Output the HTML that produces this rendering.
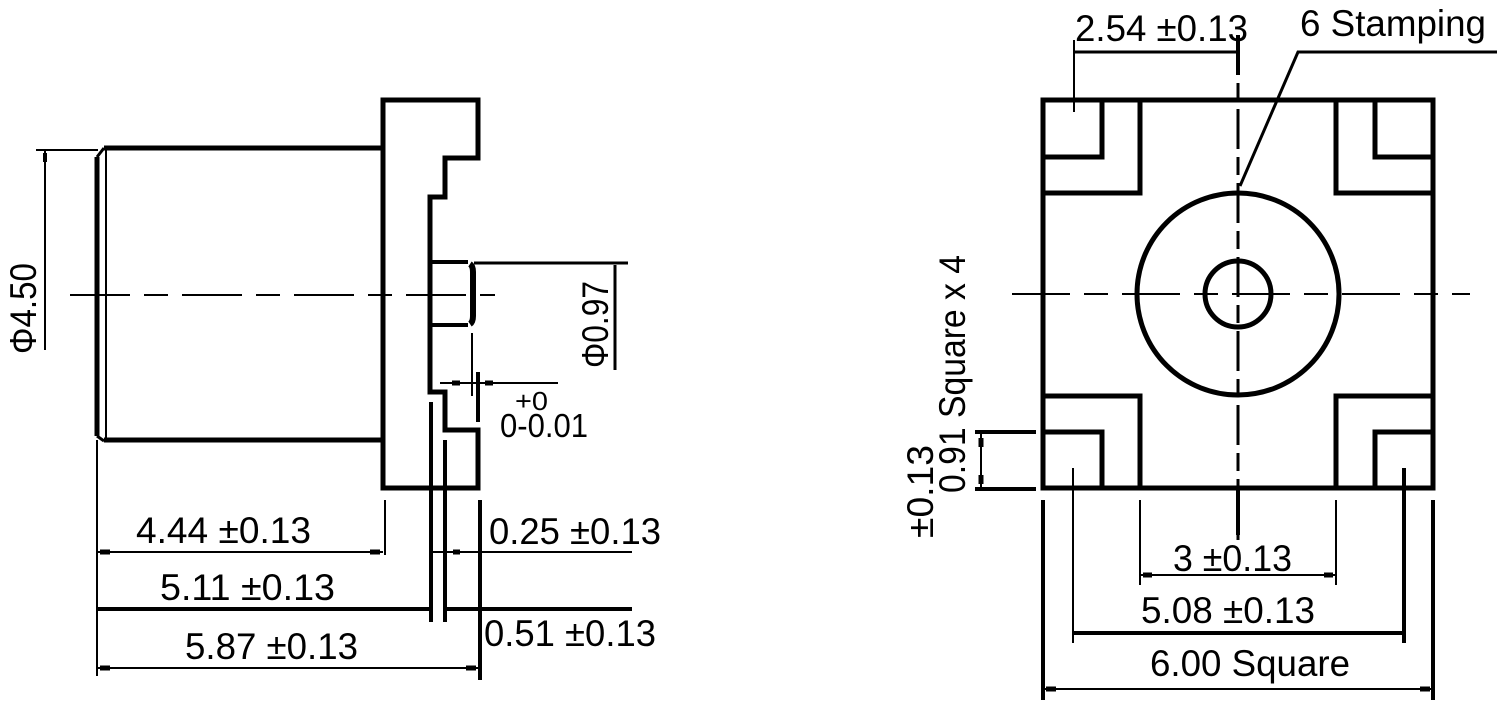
<!DOCTYPE html>
<html><head><meta charset="utf-8"><style>
html,body{margin:0;padding:0;background:#fff;}
svg{display:block;}
text{font-family:"Liberation Sans",sans-serif;fill:#000;}
</style></head><body>
<svg width="1506" height="710" viewBox="0 0 1506 710" xmlns="http://www.w3.org/2000/svg">
<g stroke="#000" fill="none" stroke-linecap="butt">
<!-- LEFT VIEW -->
<path d="M104 148 H383 M104 440 H383" stroke-width="5"/>
<path d="M97 157 V436" stroke-width="5"/>
<path d="M106 150 V438" stroke-width="2"/>
<path d="M97 157 L104 148 M97 436 L104 441" stroke-width="3"/>
<!-- flange -->
<path d="M383 100 H478 V158 H445 V197 H430 V392 H445 V430 H478 V488 H383 Z" stroke-width="5"/>
<!-- pin -->
<path d="M430 262 H468 M430 325 H468" stroke-width="4"/>
<path d="M470 264 Q473 266 473 272 V316 Q473 322 470 324" stroke-width="6"/>
<!-- centerline -->
<path d="M70 295 H495" stroke-width="2" stroke-dasharray="60,14,24,14"/>
<!-- phi 4.50 -->
<path d="M36 150 H98 M45 150 V350" stroke-width="2"/>
<path d="M45 153 V162" stroke-width="4"/>
<!-- phi 0.97 -->
<path d="M474 263 H628" stroke-width="3"/>
<path d="M615 265 V370" stroke-width="3"/>
<!-- small dim -->
<path d="M472 333 V396" stroke-width="2"/>
<path d="M478 372 V422" stroke-width="4"/>
<path d="M440 383 H558" stroke-width="2"/>
<path d="M452 383 H460 M485 383 H493" stroke-width="5"/>
<!-- bottom extension lines -->
<path d="M97 440 V676" stroke-width="2"/>
<path d="M385 500 V555" stroke-width="2"/>
<path d="M431 402 V622" stroke-width="4"/>
<path d="M445 440 V622" stroke-width="4"/>
<path d="M480 500 V680" stroke-width="4"/>
<!-- dim lines -->
<path d="M97 552 H383" stroke-width="2"/>
<path d="M100 552 H110 M370 552 H380" stroke-width="5"/>
<path d="M433 552 H632" stroke-width="2"/>
<path d="M453 552 H460" stroke-width="5"/>
<path d="M97 609 H429 M447 609 H632" stroke-width="4"/>
<path d="M97 668 H478" stroke-width="2"/>
<path d="M100 668 H110 M466 668 H476" stroke-width="5"/>

<!-- RIGHT VIEW -->
<rect x="1043" y="100" width="390" height="388" stroke-width="5"/>
<path d="M1043 157 H1102 V100 M1043 193 H1140 V100" stroke-width="5"/>
<path d="M1433 157 H1375 V100 M1433 193 H1336 V100" stroke-width="5"/>
<path d="M1043 432 H1102 V488 M1043 396 H1140 V488" stroke-width="5"/>
<path d="M1433 432 H1375 V488 M1433 396 H1336 V488" stroke-width="5"/>
<circle cx="1238" cy="294" r="101" stroke-width="5"/>
<circle cx="1238" cy="294" r="33" stroke-width="5"/>
<path d="M1012 294 H1470" stroke-width="2" stroke-dasharray="58,14,24,14"/>
<path d="M1238 35 V540" stroke-width="3" stroke-dasharray="40,8,18,8"/>
<path d="M1238 35 V75 M1238 490 V535" stroke-width="4"/>
<!-- 2.54 dim -->
<path d="M1074 40 V112" stroke-width="2"/>
<path d="M1074 52 H1238" stroke-width="3"/>
<!-- leader -->
<path d="M1240 186 L1298 52 H1497" stroke-width="3"/>
<!-- left dim 0.91 -->
<path d="M975 432 H1036 M975 489 H1036" stroke-width="4"/>
<path d="M981 432 V489" stroke-width="2"/>
<path d="M981 438 V447 M981 475 V484" stroke-width="5"/>
<!-- bottom ext -->
<path d="M1043 500 V700 M1433 500 V700" stroke-width="4"/>
<path d="M1073 468 V643" stroke-width="2"/>
<path d="M1404 468 V643" stroke-width="4"/>
<path d="M1140 500 V585 M1336 500 V585" stroke-width="2"/>
<path d="M1140 575 H1336" stroke-width="2"/>
<path d="M1143 575 H1152 M1324 575 H1333" stroke-width="5"/>
<path d="M1073 633 H1404" stroke-width="4"/>
<path d="M1043 689 H1433" stroke-width="2"/>
<path d="M1046 689 H1056 M1420 689 H1430" stroke-width="5"/>
</g>
<g font-size="37">
<text x="136" y="543" textLength="175" lengthAdjust="spacingAndGlyphs">4.44 ±0.13</text>
<text x="489" y="544" textLength="172" lengthAdjust="spacingAndGlyphs">0.25 ±0.13</text>
<text x="160" y="600" textLength="175" lengthAdjust="spacingAndGlyphs">5.11 ±0.13</text>
<text x="185" y="659" textLength="173" lengthAdjust="spacingAndGlyphs">5.87 ±0.13</text>
<text x="484" y="646" textLength="172" lengthAdjust="spacingAndGlyphs">0.51 ±0.13</text>
<text x="1075" y="41" textLength="173" lengthAdjust="spacingAndGlyphs">2.54 ±0.13</text>
<text x="1300" y="36" textLength="186" lengthAdjust="spacingAndGlyphs">6 Stamping</text>
<text x="1173" y="571" textLength="119" lengthAdjust="spacingAndGlyphs">3 ±0.13</text>
<text x="1141" y="623" textLength="174" lengthAdjust="spacingAndGlyphs">5.08 ±0.13</text>
<text x="1150" y="676" textLength="200" lengthAdjust="spacingAndGlyphs">6.00 Square</text>
<text transform="translate(36,354) rotate(-90)" textLength="91" lengthAdjust="spacingAndGlyphs">Φ4.50</text>
<text transform="translate(608,368) rotate(-90)" textLength="87" lengthAdjust="spacingAndGlyphs">Φ0.97</text>
<text transform="translate(965,493) rotate(-90)" textLength="238" lengthAdjust="spacingAndGlyphs">0.91 Square x 4</text>
<text transform="translate(933,538) rotate(-90)" textLength="93" lengthAdjust="spacingAndGlyphs">±0.13</text>
</g>
<text x="515" y="410" font-size="26" textLength="33" lengthAdjust="spacingAndGlyphs">+0</text>
<text x="500" y="437" font-size="33" textLength="88" lengthAdjust="spacingAndGlyphs">0-0.01</text>
</svg>
</body></html>
